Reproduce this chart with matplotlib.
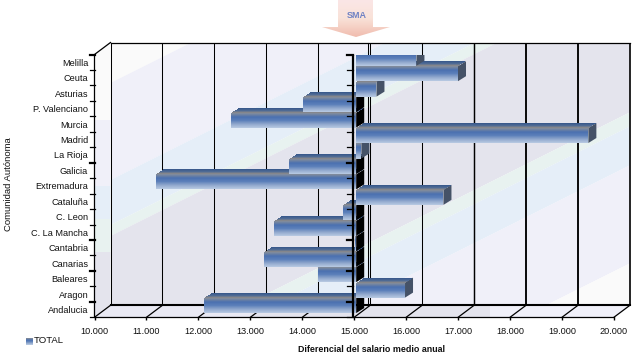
import numpy as np
import matplotlib
matplotlib.use("Agg")
import matplotlib.pyplot as plt
from matplotlib.colors import LinearSegmentedColormap
from matplotlib.patches import Polygon

plt.rcParams["font.family"] = ["Liberation Sans", "DejaVu Sans"]

# --- data ---
regions = ["Andalucia", "Aragon", "Baleares", "Canarias", "Cantabria", "C. La Mancha",
           "C. Leon", "Cataluña", "Extremadura", "Galicia", "La Rioja", "Madrid",
           "Murcia", "P. Valenciano", "Asturias", "Ceuta", "Melilla"]
salaries = [12070, 15940, 14270, 13230, 14980, 13420, 14750, 16680, 11150, 13710,
            15100, 19470, 12590, 13980, 15390, 16960, 16160]
x_ticks = [10000, 11000, 12000, 13000, 14000, 15000, 16000, 17000, 18000, 19000, 20000]
x_tick_labels = ["10.000", "11.000", "12.000", "13.000", "14.000", "15.000",
                 "16.000", "17.000", "18.000", "19.000", "20.000"]
base_value = 15000
series_name = "TOTAL"

W, H = 636, 356
L, R, T, B = 94.5, 613.9, 54.5, 317.3   # front plane in pixels
DX, DY = 16, 12                         # depth of the wall

fig = plt.figure(figsize=(W / 100, H / 100), dpi=100, facecolor="white")

########################## BACKGROUND (pixel coords) ##########################
bg = fig.add_axes([0, 0, 1, 1], zorder=0)
bg.set_xlim(0, W)
bg.set_ylim(H, 0)
bg.axis("off")

WHITE, LAV, BLUE, GREEN, GRAY = "#fafafa", "#f0f0f9", "#e5eef8", "#e8f2f0", "#e4e4ed"
wall_stops = [(-100, 83, WHITE), (83, 180, LAV), (180, 225, BLUE), (225, 236, GREEN),
              (236, 372, GRAY), (372, 386, GREEN), (386, 425, BLUE), (425, 523, LAV),
              (523, 900, WHITE)]
wx0, wx1, wy0, wy1 = L + DX, R + DX, T - DY, B - DY
wall = Polygon([(wx0, wy0), (wx1, wy0), (wx1, wy1), (wx0, wy1)], closed=True,
               transform=bg.transData)
for c0, c1, col in wall_stops:
    p = bg.fill([wx0, wx1, wx1, wx0],
                [c0, c0 - (wx1 - wx0) / 2, c1 - (wx1 - wx0) / 2, c1], color=col, lw=0)[0]
    p.set_clip_path(wall)

# left wall
side_stops = [(T - DY, 120, WHITE), (120, 186, LAV), (186, 219, BLUE), (219, 252, GREEN),
              (252, B, GRAY)]
side = Polygon([(L, T), (wx0, wy0), (wx0, wy1), (L, B)], closed=True, transform=bg.transData)
for y0, y1, col in side_stops:
    p = bg.fill([L, wx0, wx0, L], [y0, y0, y1, y1], color=col, lw=0)[0]
    p.set_clip_path(side)

# floor
floor = Polygon([(L, B), (R, B), (wx1, wy1), (wx0, wy1)], closed=True, transform=bg.transData)
floor_stops = [(L, 250, "#e9e9f3"), (250, 490, GRAY), (490, W, LAV)]
for x0, x1, col in floor_stops:
    p = bg.fill([x0, x1, x1, x0], [wy1, wy1, B, B], color=col, lw=0)[0]
    p.set_clip_path(floor)

# SMA arrow
arrow_cmap = LinearSegmentedColormap.from_list("arrow", ["#fbe6e6", "#f9e2d8", "#f0bcae"])
im = bg.imshow(np.linspace(0, 1, 64)[:, None], cmap=arrow_cmap, aspect="auto",
               extent=[322, 390, 37, 0], zorder=2)
im.set_clip_path(Polygon([(338, 0), (373, 0), (373, 27), (390, 27), (356, 37), (322, 27), (338, 27)],
                         closed=True, transform=bg.transData))
bg.set_xlim(0, W)
bg.set_ylim(H, 0)
bg.text(356.5, 16, "SMA", fontsize=6.5, color="#6f82c4", fontweight="bold",
        ha="center", va="center", zorder=3)

########################## CHART ##########################
ax = fig.add_axes([L / W, 1 - B / H, (R - L) / W, (B - T) / H], zorder=1)
ax.patch.set_alpha(0)
ax.set_xlim(x_ticks[0], x_ticks[-1])
ax.set_ylim(-0.5, len(regions) - 0.5)
for s in ax.spines.values():
    s.set_visible(False)

ux = (x_ticks[-1] - x_ticks[0]) / (R - L)   # data units per pixel
uy = len(regions) / (B - T)

# grid on the back wall
bottom = -0.5
top = len(regions) - 0.5
grid_widths = [1, 1, 1, 1, 1, 1, 1, 1.4, 1.8, 1.8, 1.6]
for k, lw in zip(x_ticks, grid_widths):
    ax.plot([k + DX * ux] * 2, [bottom + DY * uy, top + DY * uy], color="black", lw=lw * 0.75,
            clip_on=False, zorder=2, solid_capstyle="butt")
    ax.plot([k, k + DX * ux], [bottom, bottom + DY * uy], color="black", lw=0.9,
            clip_on=False, zorder=2)
ax.plot([x_ticks[0] + DX * ux, x_ticks[-1] + DX * ux], [top + DY * uy] * 2, color="black",
        lw=0.9, clip_on=False, zorder=2)
ax.plot([x_ticks[0] + DX * ux, x_ticks[-1] + DX * ux], [bottom + DY * uy] * 2, color="black",
        lw=1.5, clip_on=False, zorder=2)
ax.plot([x_ticks[0], x_ticks[-1]], [bottom, bottom], color="black", lw=0.9, clip_on=False, zorder=2)
ax.plot([base_value + DX * ux - 2 * ux] * 2, [bottom + DY * uy, top + DY * uy], color="black",
        lw=0.75, clip_on=False, zorder=2)
ax.plot([x_ticks[0], x_ticks[0], x_ticks[0] + DX * ux], [bottom, top, top + DY * uy],
        color="black", lw=0.9, clip_on=False, zorder=2)

# bars, the lower rows first: each row above covers the top of the one below
face_cmap = LinearSegmentedColormap.from_list(
    "face", ["#7f8a9c", "#4a70b0", "#5c80ba", "#8ea6cc", "#b4c6e0"])
top_cmap = LinearSegmentedColormap.from_list("top", ["#3a5a8c", "#4e6a94", "#84868c"])
side_cmap = LinearSegmentedColormap.from_list("side", ["#3a4a66", "#505a68"])

FACE_H, TOP_H, DEPTH, SHIFT_X, SHIFT_Y = 15, 5, 8, 2, 4
for i in range(len(regions)):
    v = salaries[i]
    x0 = base_value + SHIFT_X * ux
    x1 = v + SHIFT_X * ux
    y_low = i + (SHIFT_Y - FACE_H / 2) * uy
    y_high = i + (SHIFT_Y + FACE_H / 2) * uy
    z = 10 + i
    positive = v >= base_value

    # end cap (black where the bar runs left of the base)
    cap_x = x1 if positive else x0
    cap_col = side_cmap(0.5) if positive else "black"
    ax.fill([cap_x, cap_x + DEPTH * ux, cap_x + DEPTH * ux, cap_x],
            [y_low, y_low + TOP_H * uy, y_high + TOP_H * uy, y_high],
            color=cap_col, lw=0, zorder=z)
    # top face, one pixel row at a time
    for r in range(TOP_H):
        sx = (r + 0.5) * DEPTH / TOP_H * ux
        ax.barh(y_high + (r + 0.5) * uy, x1 - x0, left=x0 + sx, height=uy * 1.05,
                color=top_cmap(1 - r / (TOP_H - 1)), lw=0, zorder=z)
    # front face
    for r in range(FACE_H):
        ax.barh(y_high - (r + 0.5) * uy, x1 - x0, left=x0, height=uy * 1.05,
                color=face_cmap(r / (FACE_H - 1)), lw=0, zorder=z + 0.5)

# axis line at the base value
ax.plot([base_value - 1.5 * ux] * 2, [bottom, top], color="black", lw=1.6, zorder=40,
        solid_capstyle="butt", clip_on=False)
edges = np.arange(len(regions) + 1) - 0.5
thick_edges = [1, 3, 5, 10, 17]
for n, e in enumerate(edges):
    lw = 1.6 if n in thick_edges else 0.9
    ax.plot([base_value - 7 * ux, base_value - 1.5 * ux], [e, e], color="black", lw=lw,
            zorder=40, clip_on=False)
    ax.plot([x_ticks[0] - 5 * ux, x_ticks[0]], [e, e], color="black", lw=lw,
            zorder=40, clip_on=False)

ax.set_xticks(x_ticks)
ax.set_xticklabels(x_tick_labels, fontsize=6.6, color="#111111")
ax.set_yticks(range(len(regions)))
ax.set_yticklabels(regions, fontsize=6.6, color="#111111")
ax.tick_params(axis="x", length=2.5, width=1, pad=4.5)
ax.tick_params(axis="y", length=0, pad=4.5)

fig.text(8.5 / W, 1 - 184 / H, "Comunidad Autónoma", rotation=90, fontsize=6.8,
         ha="center", va="center", color="#111111")
fig.text(371.5 / W, 1 - 349 / H, "Diferencial del salario medio anual", fontsize=6.4,
         fontweight="bold", ha="center", va="center", color="#111111")

# legend
im2 = bg.imshow(np.linspace(0, 1, 8)[:, None], cmap=face_cmap, aspect="auto",
                extent=[26, 33, 345, 338], zorder=2)
bg.set_xlim(0, W)
bg.set_ylim(H, 0)
bg.text(34, 340.5, series_name, fontsize=6.8, ha="left", va="center", color="#111111")

fig.savefig("out.png", dpi=100)
